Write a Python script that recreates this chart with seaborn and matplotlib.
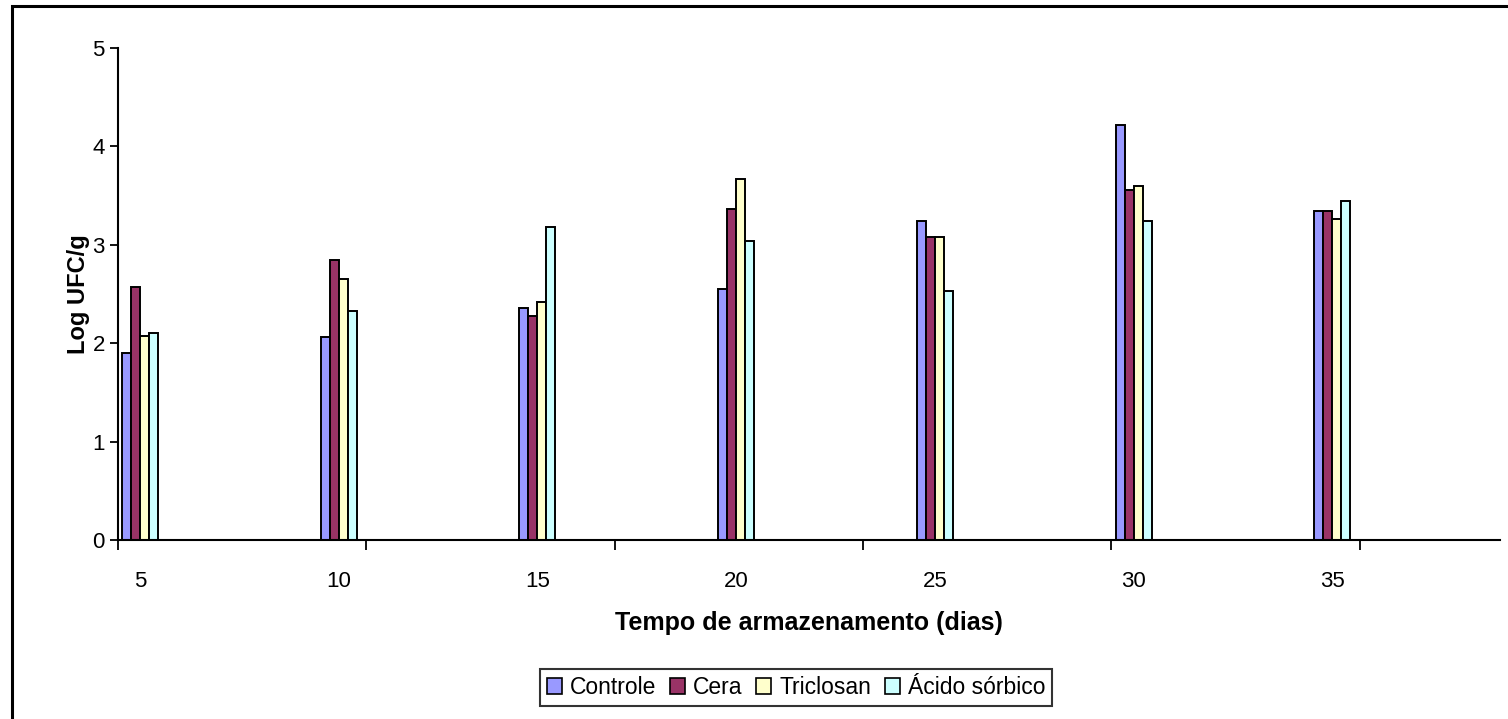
import numpy as np
import pandas as pd
import matplotlib
matplotlib.use("Agg")
import matplotlib.pyplot as plt
from matplotlib.patches import Rectangle, Patch
import seaborn as sns

# Storage time (days) and microbial counts per treatment
dias = [5, 10, 15, 20, 25, 30, 35]
tratamentos = ["Controle", "Cera", "Triclosan", "Ácido sórbico"]
controle = [1.90, 2.06, 2.36, 2.55, 3.24, 4.22, 3.34]
cera = [2.57, 2.85, 2.28, 3.36, 3.08, 3.56, 3.34]
triclosan = [2.07, 2.65, 2.42, 3.67, 3.08, 3.60, 3.26]
acido_sorbico = [2.10, 2.33, 3.18, 3.04, 2.53, 3.24, 3.45]
cores = ["#9999FF", "#993366", "#FFFFCC", "#CCFFFF"]

valores = [controle, cera, triclosan, acido_sorbico]
df = pd.DataFrame({
    "dia": np.tile(dias, len(tratamentos)),
    "tratamento": np.repeat(tratamentos, len(dias)),
    "valor": np.concatenate(valores),
})

sns.set_style("white")
plt.rcParams["font.family"] = ["Liberation Sans", "DejaVu Sans"]
plt.rcParams["text.color"] = "black"
plt.rcParams["axes.labelcolor"] = "black"
plt.rcParams["xtick.color"] = "black"
plt.rcParams["ytick.color"] = "black"

fig = plt.figure(figsize=(15.08, 7.19), dpi=100)
ax = fig.add_axes([118 / 1508, 1 - 540 / 719, (1500 - 118) / 1508, (540 - 48) / 719])

sns.barplot(
    data=df, x="dia", y="valor", hue="tratamento", hue_order=tratamentos,
    palette=cores, native_scale=True, width=0.181, dodge=True,
    edgecolor="black", linewidth=1.4, errorbar=None, saturation=1,
    legend=False, ax=ax,
)

# Axis limits and ticks
x_esq, x_dir = 4.446, 39.22
ax.set_xlim(x_esq, x_dir)
ax.set_ylim(0, 5)
ax.set_yticks(range(0, 6))
ax.set_yticklabels([str(v) for v in range(0, 6)], fontsize=16)

passo = 6.248
ax.set_xticks([x_esq + k * passo for k in range(6)])
ax.set_xticklabels([])
ax.set_xticks(dias, minor=True)
ax.set_xticklabels([str(d) for d in dias], minor=True, fontsize=16)
ax.tick_params(axis="x", which="major", bottom=True, direction="out", length=7, width=1.3, color="black")
ax.tick_params(axis="x", which="minor", bottom=True, length=0, pad=22)
ax.tick_params(axis="y", left=True, direction="out", length=6, width=1.3, color="black", pad=3.5)

for lado in ["top", "right"]:
    ax.spines[lado].set_visible(False)
for lado in ["left", "bottom"]:
    ax.spines[lado].set_color("black")
    ax.spines[lado].set_linewidth(1.5)

ax.set_xlabel("Tempo de armazenamento (dias)", fontsize=18, fontweight="bold", labelpad=14)
ax.set_ylabel("Log UFC/g", fontsize=17, fontweight="bold", labelpad=2)
ax.set_facecolor("white")

# Legend along the bottom
alcas = [Patch(facecolor=c, edgecolor="black", linewidth=1.2) for c in cores]
leg = fig.legend(
    alcas, tratamentos, loc="center", bbox_to_anchor=(0.5279, 1 - 687.5 / 719),
    ncol=4, fontsize=16.5, frameon=True, fancybox=False, handlelength=0.65,
    handleheight=0.65, handletextpad=0.35, columnspacing=0.6, borderpad=0.3,
    borderaxespad=0.0,
)
leg.get_frame().set_edgecolor("black")
leg.get_frame().set_linewidth(1.5)

# Chart area border
fig.patches.append(Rectangle(
    (12 / 1508, -0.1), 1.2, 1.1 - 6 / 719, transform=fig.transFigure,
    fill=False, edgecolor="black", linewidth=2.2, zorder=10,
))

fig.savefig("out.png", dpi=100, facecolor="white")
